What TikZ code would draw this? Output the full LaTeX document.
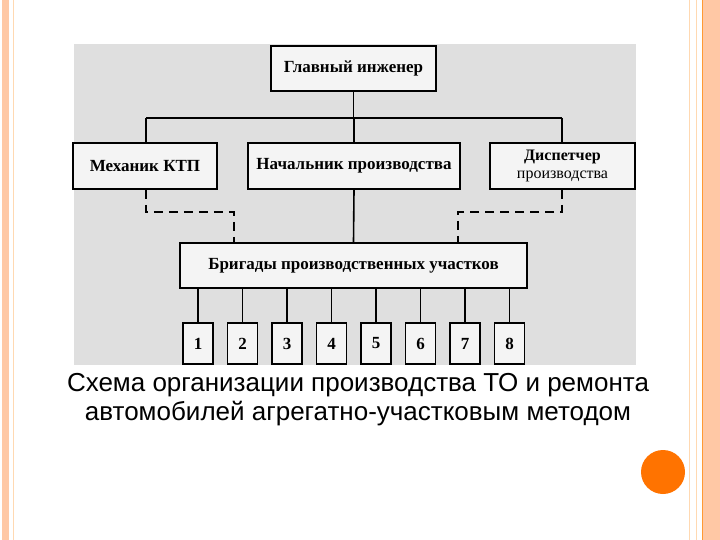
\documentclass[tikz,border=0pt]{standalone}
\usepackage{fontspec}
\setmainfont{Liberation Serif}
\newfontfamily\capfont{Liberation Sans}
\begin{document}
\begin{tikzpicture}[x=1pt,y=-1pt,
  bx/.style={draw=black,line width=1.6pt,fill=white!70!gray!30,font=\bfseries\fontsize{17}{17}\selectfont,inner sep=0pt,align=center},
  ln/.style={line width=1.6pt},
  dln/.style={line width=1.6pt,dash pattern=on 9pt off 6pt}]
\useasboundingbox (0,0) rectangle (720,540);
\fill[white] (0,0) rectangle (720,540);
% slide borders
\fill[orange!45!pink!60] (2,0) rectangle (9,540);
\draw[orange!30,line width=0.6pt] (13,0) -- (13,540);
\draw[orange!30,line width=0.6pt] (689,0) -- (689,540);
\draw[orange!30,line width=0.6pt] (696,0) -- (696,540);
\fill[orange!45!pink!60] (702,0) rectangle (720,540);
\draw[orange!80,line width=0.8pt] (702,0) -- (702,540);
% image background
\fill[gray!25] (74,44) rectangle (636,365);
% nodes
\node[bx,minimum width=165pt,minimum height=45pt] (gi) at (353.5,68.5) {Главный инженер};
\node[bx,minimum width=144pt,minimum height=46pt] (mk) at (145,166) {Механик КТП};
\node[bx,minimum width=212pt,minimum height=46pt] (np) at (354,166) {Начальник производства};
\node[bx,minimum width=145pt,minimum height=46pt,font=\bfseries\fontsize{16}{18}\selectfont] (dp) at (562.5,166) {Диспетчер\\{\mdseries производства}};
\node[bx,minimum width=347pt,minimum height=45pt] (br) at (353.5,265.5) {Бригады производственных участков};
\foreach \i in {1,...,8}{
  \node[bx,minimum width=30pt,minimum height=41pt] (n\i) at ({198+44.5*(\i-1)},343.5) {\i};
  \draw[ln] (n\i.north) -- (n\i.north |- br.south);
}
% connectors
\coordinate (hl) at (146,118);
\coordinate (hr) at (562,118);
\draw[ln] (gi.south) -- (gi.south |- hl);
\draw[ln] (hl) -- (hr);
\draw[ln] (hl) -- (hl |- mk.north);
\draw[ln] (np.north) -- (np.north |- hl);
\draw[ln] (hr) -- (hr |- dp.north);
\draw[ln] (np.south) -- (br.north);
\coordinate (dl) at (146,212);
\coordinate (dl2) at (234,212);
\coordinate (dr) at (562,212);
\coordinate (dr2) at (458,212);
\draw[dln] (mk.south -| dl) -- (dl) -- (dl2) -- (dl2 |- br.north);
\draw[dln] (dp.south -| dr) -- (dr) -- (dr2) -- (dr2 |- br.north);
% caption
\node[font=\capfont\fontsize{26}{29}\selectfont,align=center] (cap) at (358,400) {Схема организации производства ТО и ремонта\\автомобилей агрегатно-участковым методом};
\fill[orange!90!red] (663,472) circle (22);
\end{tikzpicture}
\end{document}
